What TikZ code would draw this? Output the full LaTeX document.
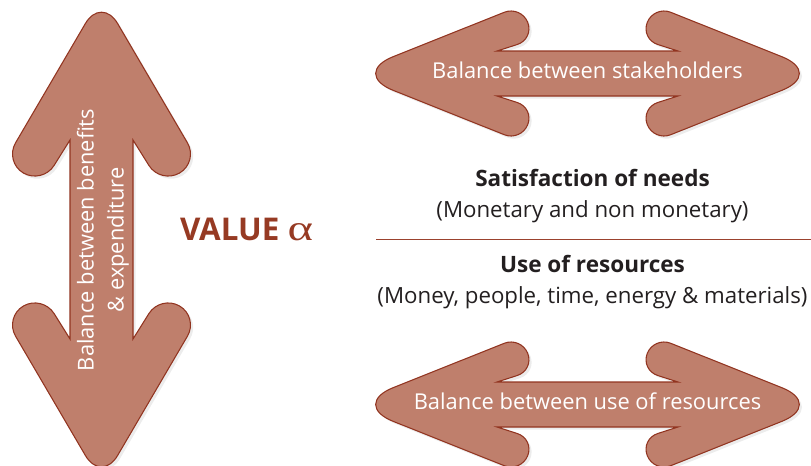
\documentclass[tikz,border=0pt]{standalone}
\usepackage{fontspec}
\usepackage{graphicx}
\setmainfont{Open Sans}
\newfontfamily\alphafont{Liberation Serif}
\usetikzlibrary{shadows}
\definecolor{arrowfill}{RGB}{191,127,108}
\definecolor{arrowedge}{RGB}{145,52,32}
\definecolor{valuered}{RGB}{150,58,35}
\definecolor{rulered}{RGB}{155,66,46}
\definecolor{bodygrey}{RGB}{35,31,32}
\newcommand{\textsz}{\fontsize{16.4}{22.5}\selectfont}
\tikzstyle{arrowshape} = [fill=arrowfill, draw=arrowedge, line width=0.8pt, drop shadow={shadow xshift=2pt, shadow yshift=-2pt, opacity=0.15}]
\tikzstyle{plaintext} = [inner sep=0pt, text height=0.9em, text depth=0.2em]
\tikzstyle{arrowtext} = [plaintext, text=white, font=\textsz]
\tikzstyle{heading} = [plaintext, text=bodygrey, font=\fontsize{16.9}{22.5}\selectfont\bfseries]
\tikzstyle{subline} = [plaintext, text=bodygrey, font=\fontsize{16.7}{22.5}\selectfont]
\tikzstyle{ruleline} = [draw=rulered, line width=1.3pt]

\begin{document}
\begin{tikzpicture}[x=0.75pt, y=-0.75pt]
	\useasboundingbox (0,0) rectangle (811,465);

	% up and down arrow
	\draw[arrowshape] (70,140) [rounded corners=16.5pt] -- (42.4,184.1) -- (4.4,161.9) [rounded corners=24pt] -- (101.5,-4) [rounded corners=16.5pt] -- (198.6,161.9) -- (160.6,184.1) [sharp corners] -- (133,140) -- (133,339) [rounded corners=16.5pt] -- (160.6,294.9) -- (198.6,317.1) [rounded corners=24pt] -- (101.5,483) [rounded corners=16.5pt] -- (4.4,317.1) -- (42.4,294.9) [sharp corners] -- (70,339) -- cycle;
	\node[text=white, font=\textsz, rotate=90, align=center] (benefits) at (103,240){Balance between benefits\\\& expenditure};

	% left and right arrows
	\draw[arrowshape] (497,51) -- (678,51) [rounded corners=13.5pt] -- (640.6,39) -- (654,5.6) [rounded corners=34pt] -- (824,73.5) [rounded corners=13.5pt] -- (654,141.4) -- (640.6,108) [sharp corners] -- (678,96) -- (497,96) [rounded corners=13.5pt] -- (534.4,108) -- (521,141.4) [rounded corners=34pt] -- (351,73.5) [rounded corners=13.5pt] -- (521,5.6) -- (534.4,39) [sharp corners] -- cycle;
	\node[arrowtext] (stakeholders) at (587.5,74){Balance between stakeholders};

	\begin{scope}[shift={(0,331)}]
	\draw[arrowshape] (497,51) -- (678,51) [rounded corners=13.5pt] -- (640.6,39) -- (654,5.6) [rounded corners=34pt] -- (824,73.5) [rounded corners=13.5pt] -- (654,141.4) -- (640.6,108) [sharp corners] -- (678,96) -- (497,96) [rounded corners=13.5pt] -- (534.4,108) -- (521,141.4) [rounded corners=34pt] -- (351,73.5) [rounded corners=13.5pt] -- (521,5.6) -- (534.4,39) [sharp corners] -- cycle;
	\node[arrowtext] (resources) at (587.5,74){Balance between use of resources};
	\end{scope}

	\node[plaintext, text=valuered, font=\fontsize{23.5}{24}\selectfont\bfseries] (value) at (246.5,236){VALUE \scalebox{1.35}[1]{\alphafont\mdseries\fontsize{27}{27}\selectfont α}};

	\node[heading] (needs) at (592.5,182){Satisfaction of needs};
	\node[subline] (monetary) at (592.5,213){(Monetary and non monetary)};
	\coordinate (rulestart) at (376,239.5);
	\coordinate (ruleend) at (811,239.5);
	\draw[ruleline] (rulestart) -- (ruleend);
	\node[heading] (useres) at (592.5,268){Use of resources};
	\node[subline] (money) at (592.5,299){(Money, people, time, energy \& materials)};
\end{tikzpicture}
\end{document}
